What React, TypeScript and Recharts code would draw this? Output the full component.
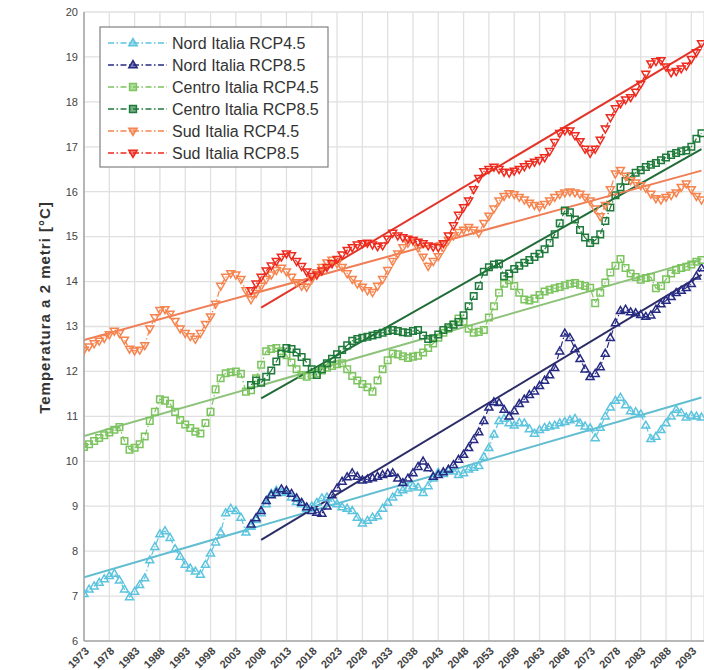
import React from "react";
import { LineChart, Line, XAxis, YAxis, CartesianGrid } from "recharts";

// ---------- DATA ----------
const START_45 = 1973; // historical + RCP4.5 runs
const START_85 = 2006; // RCP8.5 runs

const nordRcp45 = [
  7.05, 7.15, 7.22, 7.30, 7.38, 7.45, 7.50, 7.35, 7.15, 6.98,
  7.10, 7.25, 7.40, 7.80, 8.10, 8.38, 8.45, 8.30, 8.05, 7.88,
  7.70, 7.62, 7.55, 7.48, 7.70, 7.95, 8.20, 8.42, 8.85, 8.95,
  8.90, 8.75, 8.42, 8.55, 8.70, 8.85, 9.05, 9.28, 9.35, 9.30,
  9.32, 9.20, 9.10, 9.05, 8.95, 9.00, 9.08, 9.18, 9.20, 9.10,
  9.05, 8.98, 8.95, 8.90, 8.75, 8.62, 8.68, 8.75, 8.78, 8.95,
  9.08, 9.20, 9.30, 9.36, 9.40, 9.45, 9.42, 9.30, 9.45, 9.62,
  9.75, 9.72, 9.80, 9.78, 9.70, 9.74, 9.82, 9.86, 9.90, 10.10,
  10.30, 10.60, 10.90, 10.95, 10.85, 10.80, 10.86, 10.85, 10.72, 10.62,
  10.70, 10.75, 10.78, 10.80, 10.85, 10.88, 10.92, 10.95, 10.85, 10.78,
  10.74, 10.52, 10.75, 11.00, 11.20, 11.35, 11.42, 11.25, 11.12, 11.10,
  11.05, 10.80, 10.50, 10.55, 10.70, 10.85, 11.00, 11.15, 11.08, 10.98,
  11.02, 11.00, 10.98,
];

const nordRcp85 = [
  8.60, 8.74, 8.90, 9.12, 9.25, 9.30, 9.38, 9.35, 9.28, 9.18,
  9.08, 8.98, 8.90, 8.86, 8.84, 9.00, 9.25, 9.40, 9.55, 9.65,
  9.74, 9.66, 9.58, 9.60, 9.63, 9.66, 9.70, 9.73, 9.74, 9.62,
  9.52, 9.62, 9.74, 9.88, 10.00, 9.85, 9.66, 9.70, 9.76, 9.82,
  9.92, 10.04, 10.15, 10.30, 10.48, 10.65, 10.90, 11.20, 11.32, 11.30,
  11.15, 11.00, 11.12, 11.28, 11.38, 11.48, 11.56, 11.68, 11.80, 11.92,
  12.08, 12.45, 12.85, 12.75, 12.50, 12.28, 12.05, 11.88, 11.95, 12.10,
  12.40, 12.75, 13.08, 13.35, 13.38, 13.32, 13.30, 13.26, 13.22, 13.25,
  13.38, 13.50, 13.58, 13.66, 13.75, 13.80, 13.86, 13.95, 14.12, 14.30,
];

const centroRcp45 = [
  10.32, 10.38, 10.45, 10.52, 10.58, 10.64, 10.70, 10.76, 10.45, 10.26,
  10.30, 10.38, 10.55, 10.90, 11.10, 11.38, 11.35, 11.28, 11.10, 10.92,
  10.82, 10.74, 10.66, 10.62, 10.85, 11.10, 11.60, 11.85, 11.96, 11.98,
  12.00, 11.95, 11.55, 11.58, 11.85, 12.15, 12.45, 12.50, 12.52, 12.45,
  12.36, 12.20, 12.05, 11.92, 11.88, 11.92, 11.96, 12.02, 12.08, 12.12,
  12.16, 12.18, 12.05, 11.90, 11.80, 11.72, 11.65, 11.55, 11.80, 12.05,
  12.25, 12.40, 12.38, 12.34, 12.30, 12.33, 12.35, 12.42, 12.52, 12.62,
  12.75, 12.86, 12.95, 13.05, 13.18, 13.10, 12.95, 12.86, 12.88, 12.92,
  13.20, 13.45, 13.75, 13.95, 14.03, 13.90, 13.75, 13.60, 13.58, 13.62,
  13.70, 13.78, 13.82, 13.85, 13.88, 13.92, 13.95, 13.97, 13.93, 13.90,
  13.86, 13.52, 13.75, 13.98, 14.20, 14.35, 14.50, 14.30, 14.18, 14.10,
  14.04, 14.08, 14.10, 13.85, 13.90, 14.05, 14.18, 14.26, 14.30, 14.33,
  14.38, 14.44, 14.48,
];

const centroRcp85 = [
  11.70, 11.80, 11.75, 11.88, 12.02, 12.22, 12.40, 12.52, 12.50, 12.42,
  12.32, 12.20, 12.05, 11.92, 12.05, 12.18, 12.28, 12.38, 12.48, 12.58,
  12.68, 12.72, 12.75, 12.77, 12.80, 12.83, 12.86, 12.90, 12.92, 12.90,
  12.87, 12.86, 12.90, 12.92, 12.80, 12.72, 12.74, 12.82, 12.92, 12.98,
  13.04, 13.10, 13.25, 13.45, 13.68, 13.90, 14.22, 14.32, 14.38, 14.40,
  14.12, 14.18, 14.28, 14.35, 14.42, 14.48, 14.55, 14.62, 14.72, 14.86,
  15.05, 15.30, 15.58, 15.54, 15.38, 15.15, 14.98, 14.86, 14.92, 15.05,
  15.35, 15.65, 15.92, 16.10, 16.24, 16.34, 16.42, 16.48, 16.55, 16.60,
  16.64, 16.70, 16.76, 16.82, 16.86, 16.90, 16.92, 17.00, 17.18, 17.30,
];

const sudRcp45 = [
  12.48, 12.55, 12.62, 12.68, 12.74, 12.82, 12.90, 12.85, 12.70, 12.50,
  12.46, 12.48, 12.58, 12.95, 13.20, 13.36, 13.38, 13.28, 13.12, 12.95,
  12.85, 12.78, 12.72, 12.85, 13.05, 13.22, 13.50, 13.90, 14.10, 14.18,
  14.15, 14.05, 13.80, 13.60, 13.74, 13.90, 14.05, 14.15, 14.25, 14.30,
  14.22, 14.10, 13.98, 13.90, 13.88, 14.05, 14.20, 14.32, 14.42, 14.48,
  14.40, 14.32, 14.18, 14.05, 13.95, 13.88, 13.80, 13.76, 13.90, 14.05,
  14.25, 14.45, 14.62, 14.76, 14.86, 14.92, 14.75, 14.55, 14.34, 14.45,
  14.56, 14.75, 14.92, 15.02, 15.10, 15.15, 15.21, 15.15, 15.08, 15.30,
  15.46, 15.62, 15.80, 15.90, 15.96, 15.94, 15.88, 15.82, 15.75, 15.70,
  15.66, 15.72, 15.80, 15.88, 15.94, 15.98, 16.00, 15.98, 15.95, 15.88,
  15.80, 15.62, 15.45, 15.70, 16.05, 16.40, 16.48, 16.35, 16.25, 16.20,
  16.14, 16.08, 15.95, 15.85, 15.82, 15.88, 15.92, 15.98, 16.10, 16.18,
  16.05, 15.90, 15.82,
];

const sudRcp85 = [
  13.80, 13.95, 14.10, 14.24, 14.35, 14.45, 14.55, 14.62, 14.58, 14.45,
  14.34, 14.22, 14.12, 14.15, 14.24, 14.32, 14.40, 14.50, 14.60, 14.70,
  14.76, 14.82, 14.85, 14.86, 14.82, 14.78, 14.80, 14.95, 15.08, 15.02,
  14.98, 14.95, 14.92, 14.88, 14.85, 14.80, 14.77, 14.76, 14.85, 15.02,
  15.25, 15.48, 15.65, 15.80, 16.05, 16.30, 16.45, 16.50, 16.55, 16.50,
  16.44, 16.42, 16.46, 16.50, 16.56, 16.62, 16.66, 16.70, 16.76, 16.90,
  17.10, 17.30, 17.36, 17.36, 17.25, 17.12, 16.95, 16.86, 16.95, 17.15,
  17.40, 17.65, 17.85, 17.96, 18.05, 18.10, 18.22, 18.40, 18.62, 18.85,
  18.90, 18.92, 18.78, 18.65, 18.68, 18.74, 18.80, 18.95, 19.10, 19.30,
];

// linear trend lines: [start, end] values at the years below
const trendYears45 = [1973, 2095];
const trendYears85 = [2008, 2095];
const nordTrend45 = [7.42, 11.42];
const nordTrend85 = [8.25, 14.15];
const centroTrend45 = [10.56, 14.5];
const centroTrend85 = [11.4, 16.95];
const sudTrend45 = [12.7, 16.47];
const sudTrend85 = [13.42, 19.25];

const xTicks = [
  1973, 1978, 1983, 1988, 1993, 1998, 2003, 2008, 2013, 2018, 2023, 2028, 2033,
  2038, 2043, 2048, 2053, 2058, 2063, 2068, 2073, 2078, 2083, 2088, 2093,
];
const yTicks = [6, 7, 8, 9, 10, 11, 12, 13, 14, 15, 16, 17, 18, 19, 20];
const Y_LABEL = "Temperatura a 2 metri [°C]";

// ---------- CONFIG ----------
type Marker = "up" | "square" | "down";
interface Series {
  name: string;
  start: number;
  values: number[];
  color: string;
  marker: Marker;
  trendYears: number[];
  trend: number[];
  trendColor: string;
}

const series: Series[] = [
  { name: "Nord Italia RCP4.5", start: START_45, values: nordRcp45, color: "#5cc4de", marker: "up", trendYears: trendYears45, trend: nordTrend45, trendColor: "#62bdd0" },
  { name: "Nord Italia RCP8.5", start: START_85, values: nordRcp85, color: "#262a82", marker: "up", trendYears: trendYears85, trend: nordTrend85, trendColor: "#2c2d68" },
  { name: "Centro Italia RCP4.5", start: START_45, values: centroRcp45, color: "#7cc45e", marker: "square", trendYears: trendYears45, trend: centroTrend45, trendColor: "#8cc27a" },
  { name: "Centro Italia RCP8.5", start: START_85, values: centroRcp85, color: "#1e7a3a", marker: "square", trendYears: trendYears85, trend: centroTrend85, trendColor: "#206c37" },
  { name: "Sud Italia RCP4.5", start: START_45, values: sudRcp45, color: "#f5844f", marker: "down", trendYears: trendYears45, trend: sudTrend45, trendColor: "#ef7d55" },
  { name: "Sud Italia RCP8.5", start: START_85, values: sudRcp85, color: "#ee2a1e", marker: "down", trendYears: trendYears85, trend: sudTrend85, trendColor: "#e2352a" },
];

const toPoints = (start: number, values: number[]) =>
  values.map((t, i) => ({ year: start + i, t }));
const toTrend = (years: number[], vals: number[]) =>
  years.map((year, i) => ({ year, t: vals[i] }));

const FONT = "'Liberation Sans', Arial, sans-serif";
const DASH = "6 2.5 1.5 2.5";

function markerPath(m: Marker, cx: number, cy: number, s: number) {
  if (m === "up")
    return `M${cx},${cy - s} L${cx + s * 0.95},${cy + s * 0.65} L${cx - s * 0.95},${cy + s * 0.65} Z`;
  if (m === "down")
    return `M${cx},${cy + s} L${cx + s * 0.95},${cy - s * 0.65} L${cx - s * 0.95},${cy - s * 0.65} Z`;
  const h = s * 0.78;
  return `M${cx - h},${cy - h} L${cx + h},${cy - h} L${cx + h},${cy + h} L${cx - h},${cy + h} Z`;
}

const makeDot = (cfg: Series) => (p: any) => {
  const { cx, cy, index } = p;
  if (cx == null || cy == null || isNaN(cx) || isNaN(cy))
    return <g key={`${cfg.name}-${index}`} />;
  return (
    <path
      key={`${cfg.name}-${index}`}
      d={markerPath(cfg.marker, cx, cy, 4.2)}
      fill="none"
      stroke={cfg.color}
      strokeWidth={1.5}
    />
  );
};

const XTick = (p: any) => {
  const { x, y, payload } = p;
  const tx = x + 3;
  const ty = y + 2;
  return (
    <text
      x={tx}
      y={ty}
      transform={`rotate(-45 ${tx} ${ty})`}
      textAnchor="end"
      dy="0.35em"
      fontSize={11}
      fontWeight="bold"
      fill="#444"
      fontFamily={FONT}
    >
      {payload.value}
    </text>
  );
};

const YTick = (p: any) => {
  const { x, y, payload } = p;
  return (
    <text x={x} y={y} textAnchor="end" dy="0.35em" fontSize={11} fill="#444" fontFamily={FONT}>
      {payload.value}
    </text>
  );
};

const YLabel = (p: any) => {
  const vb = p.viewBox || { x: 0, y: 12, width: 84, height: 629 };
  const cx = vb.x + 45;
  const cy = vb.y + vb.height / 2 - 19;
  return (
    <text
      x={cx}
      y={cy}
      transform={`rotate(-90 ${cx} ${cy})`}
      textAnchor="middle"
      dy="0.35em"
      fontSize={15}
      fontWeight="bold"
      letterSpacing={1}
      fill="#333"
      fontFamily={FONT}
    >
      {Y_LABEL}
    </text>
  );
};

const Legend = () => {
  const left = 100;
  const top = 27;
  const w = 228;
  const h = 140;
  const rowH = 22;
  return (
    <svg
      width={704}
      height={670}
      style={{ position: "absolute", left: 0, top: 0, pointerEvents: "none" }}
    >
      <rect x={left} y={top} width={w} height={h} fill="#fff" stroke="#808080" strokeWidth={1.2} />
      {series.map((s, i) => {
        const cy = top + 16 + i * rowH;
        return (
          <g key={s.name}>
            <line x1={left + 8} x2={left + 67} y1={cy} y2={cy} stroke={s.color} strokeWidth={1.6} strokeDasharray={DASH} />
            <path d={markerPath(s.marker, left + 33, cy, 4.4)} fill={s.color} fillOpacity={0.6} stroke={s.color} strokeWidth={1.5} />
            <text x={left + 72} y={cy} dy="0.36em" fontSize={16} fill="#333" fontFamily={FONT}>
              {s.name}
            </text>
          </g>
        );
      })}
    </svg>
  );
};

export default function App() {
  return (
    <div
      style={{
        position: "absolute",
        left: 0,
        top: 0,
        width: 704,
        height: 670,
        overflow: "hidden",
        background: "#fff",
      }}
    >
      <LineChart width={704} height={670} margin={{ top: 12, right: 0, bottom: 0, left: 0 }}>
        <CartesianGrid stroke="#e0e0e0" strokeWidth={1.3} vertical horizontal />
        <XAxis
          dataKey="year"
          type="number"
          domain={[1973, 2095.5]}
          allowDataOverflow
          ticks={xTicks}
          interval={0}
          height={29}
          tickLine={false}
          tickSize={4}
          tick={<XTick />}
          axisLine={{ stroke: "#a8a8a8", strokeWidth: 1.6 }}
        />
        <YAxis
          type="number"
          domain={[6, 20]}
          ticks={yTicks}
          interval={0}
          width={84}
          tickLine={false}
          tickSize={4}
          tickMargin={2}
          tick={<YTick />}
          axisLine={{ stroke: "#a8a8a8", strokeWidth: 1.6 }}
          label={(p: any) => <YLabel {...p} />}
        />
        {series.map((s) => (
          <Line
            key={s.name}
            data={toPoints(s.start, s.values)}
            dataKey="t"
            name={s.name}
            type="linear"
            stroke={s.color}
            strokeWidth={1.2}
            strokeDasharray={DASH}
            dot={makeDot(s)}
            activeDot={false}
            isAnimationActive={false}
          />
        ))}
        {series.map((s) => (
          <Line
            key={`${s.name}-trend`}
            data={toTrend(s.trendYears, s.trend)}
            dataKey="t"
            name={`${s.name} trend`}
            type="linear"
            stroke={s.trendColor}
            strokeWidth={2}
            dot={false}
            activeDot={false}
            legendType="none"
            isAnimationActive={false}
          />
        ))}
      </LineChart>
      <Legend />
    </div>
  );
}
